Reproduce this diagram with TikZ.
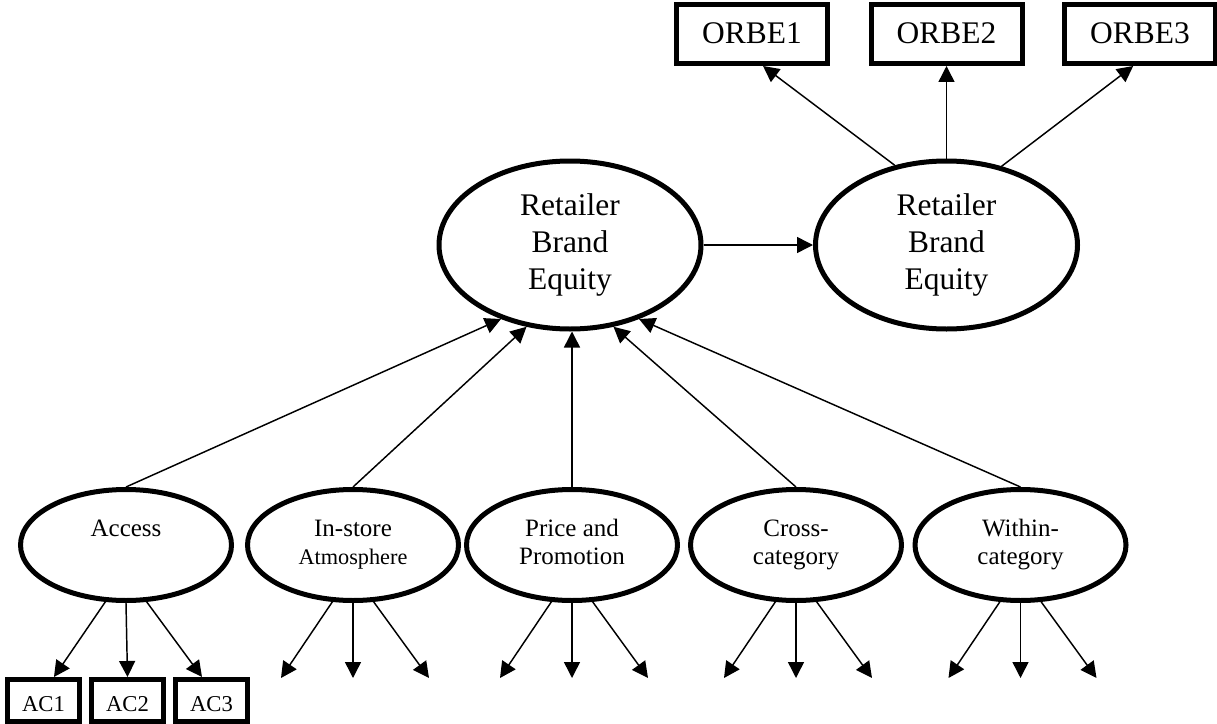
\documentclass[tikz,border=0pt]{standalone}
\usepackage{fontspec}
\setmainfont{Liberation Serif}
\usetikzlibrary{shapes.geometric,arrows.meta}
\begin{document}
\begin{tikzpicture}[x=0.75pt,y=-0.75pt,
  latent/.style={ellipse, draw, line width=3.75pt, inner sep=0pt, align=center,
    minimum width=158.25pt, minimum height=83.25pt,
    font=\fontsize{18.75pt}{21.4pt}\selectfont},
  rbe/.style={ellipse, draw, line width=3.75pt, inner sep=0pt, align=center,
    minimum width=196.5pt, minimum height=126pt,
    font=\fontsize{23.6pt}{27.75pt}\selectfont},
  obox/.style={rectangle, draw, line width=3.75pt, inner sep=0pt,
    minimum width=113.25pt, minimum height=44.25pt,
    font=\fontsize{23.6pt}{27pt}\selectfont, text height=14pt, text depth=0pt},
  acbox/.style={rectangle, draw, line width=3.75pt, inner sep=0pt,
    minimum width=54pt, minimum height=31.5pt,
    font=\fontsize{17pt}{20pt}\selectfont, text height=16.8pt, text depth=0pt},
  arr/.style={-{Triangle[length=12pt,width=12pt]}, line width=1.1pt}
]
\useasboundingbox (0,0) rectangle (1217,724);

% top indicators
\node[obox] (orbe1) at (752,34) {ORBE1};
\node[obox] (orbe2) at (946.5,34) {ORBE2};
\node[obox] (orbe3) at (1140,34) {ORBE3};

% retailer brand equity
\node[rbe] (rbe1) at (570,245) {\strut Retailer\\\strut Brand\\\strut Equity};
\node[rbe] (rbe2) at (946.5,245) {\strut Retailer\\\strut Brand\\\strut Equity};

% dimensions
\node[latent] (acc) at (126,545) {\strut Access\\\strut};
\node[latent] (ins) at (353,545) {\strut In-store\\{\fontsize{16.7pt}{21.4pt}\selectfont\strut Atmosphere}};
\node[latent] (pri) at (572,545) {\strut Price and\\\strut Promotion};
\node[latent] (cro) at (796,545) {\strut Cross-\\\strut category};
\node[latent] (wit) at (1020.5,545) {\strut Within-\\\strut category};

% access indicators
\node[acbox] (ac1) at (43.5,700.5) {AC1};
\node[acbox] (ac2) at (127.5,700.5) {AC2};
\node[acbox] (ac3) at (211.5,700.5) {AC3};

% free arrow ends
\coordinate (ins1) at (281,678);
\coordinate (ins2) at (353,678);
\coordinate (ins3) at (429,678);
\coordinate (pri1) at (500,678);
\coordinate (pri2) at (572,678);
\coordinate (pri3) at (648,678);
\coordinate (cro1) at (724,678);
\coordinate (cro2) at (796,678);
\coordinate (cro3) at (872,678);
\coordinate (wit1) at (948.5,678);
\coordinate (wit2) at (1020.5,678);
\coordinate (wit3) at (1096.5,678);

% structural paths
\draw[arr] (rbe1.east) -- (rbe2.west);
\draw[arr] (rbe2.123) -- (orbe1.-71);
\draw[arr] (rbe2.north) -- (orbe2.south);
\draw[arr] (rbe2.55) -- (orbe3.-102);

\draw[arr] (acc.north) -- (rbe1.227);
\draw[arr] (ins.north) -- (rbe1.242.6);
\draw[arr] (pri.north) -- (pri.north |- rbe1.south);
\draw[arr] (cro.north) -- (rbe1.298.3);
\draw[arr] (wit.north) -- (rbe1.313.4);

% measurement arrows
\draw[arr] (acc.250) -- (ac1.66);
\draw[arr] (acc.south) -- (ac2.north);
\draw[arr] (acc.290) -- (ac3.112);

\draw[arr] (ins.250) -- (ins1);
\draw[arr] (ins.south) -- (ins2);
\draw[arr] (ins.290) -- (ins3);

\draw[arr] (pri.250) -- (pri1);
\draw[arr] (pri.south) -- (pri2);
\draw[arr] (pri.290) -- (pri3);

\draw[arr] (cro.250) -- (cro1);
\draw[arr] (cro.south) -- (cro2);
\draw[arr] (cro.290) -- (cro3);

\draw[arr] (wit.250) -- (wit1);
\draw[arr] (wit.south) -- (wit2);
\draw[arr] (wit.290) -- (wit3);
\end{tikzpicture}
\end{document}
